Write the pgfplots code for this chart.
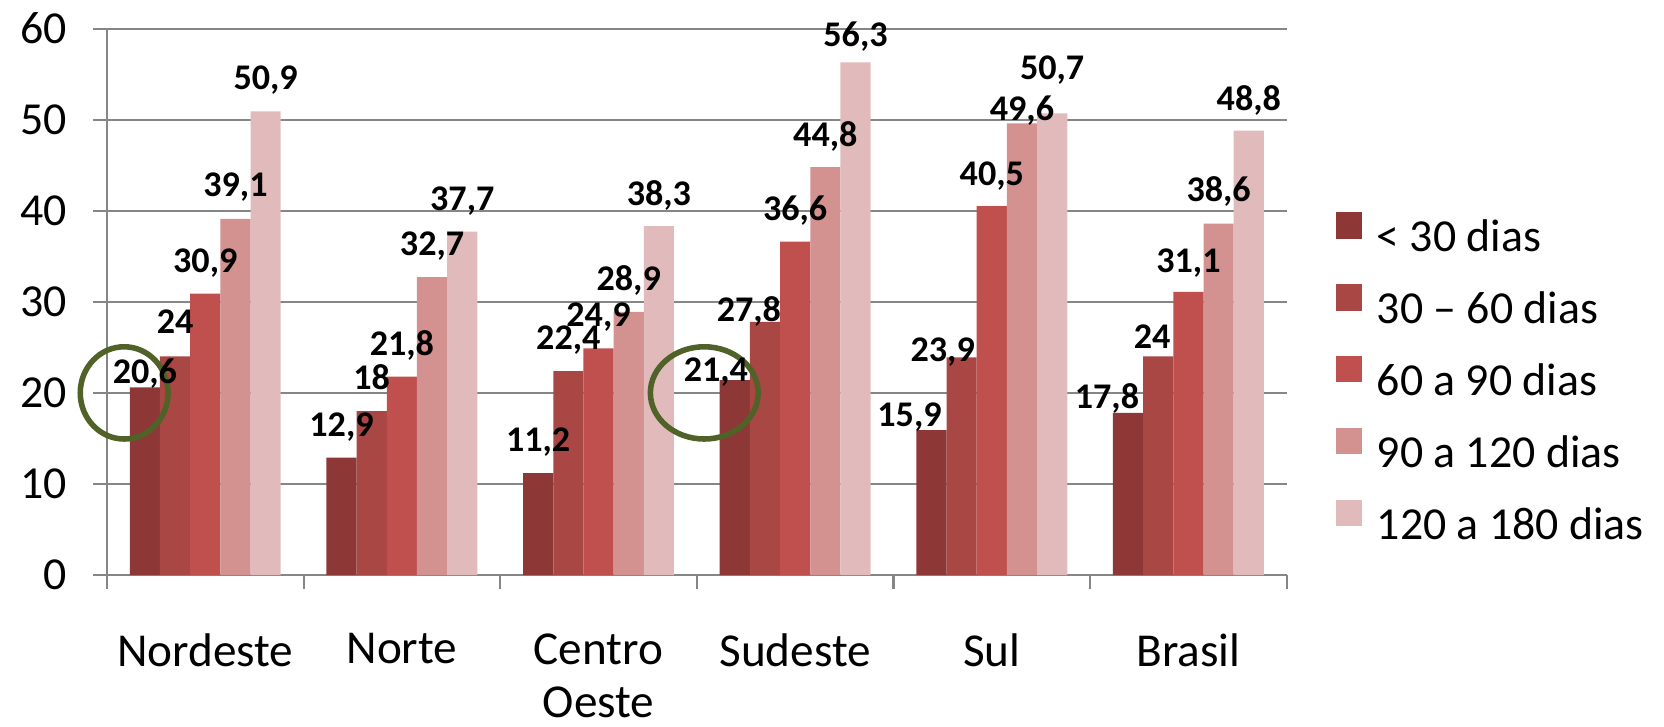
\documentclass[border=0pt]{standalone}
\usepackage{pgfplots}
\usepackage{pgfplotstable}
\pgfplotsset{compat=1.18}
\usepackage{fontspec}
\setmainfont{Carlito}

\definecolor{cA}{RGB}{141,56,55}
\definecolor{cB}{RGB}{169,71,69}
\definecolor{cC}{RGB}{192,80,77}
\definecolor{cD}{RGB}{211,145,144}
\definecolor{cE}{RGB}{225,187,187}
\definecolor{gridc}{RGB}{134,134,134}
\definecolor{ring}{RGB}{80,98,40}

% x, value, label x shift (pt), label baseline above bar top (pt)
\pgfplotstableread{
x y dx by
0 20.6 0 1.3
1 12.9 0 7.7
2 11.2 0 7.7
3 21.4 -6.8 -0.5
4 15.9 -7.9 1.3
5 17.8 -7.6 1.6
}\tA
\pgfplotstableread{
x y dx by
0 24 0 8.3
1 18 0 7.7
2 22.4 0 7.9
3 27.8 -5.8 0.2
4 23.9 -6.8 -1.6
5 24 -2.2 2.8
}\tB
\pgfplotstableread{
x y dx by
0 30.9 0 7.7
1 21.8 0 7.7
2 24.9 0 7.7
3 36.6 0 7.8
4 40.5 0 7.6
5 31.1 0 7.0
}\tC
\pgfplotstableread{
x y dx by
0 39.1 0 8.0
1 32.7 0 8.0
2 28.9 0 7.8
3 44.8 0 7.5
4 49.6 0 1.2
5 38.6 0 7.8
}\tD
\pgfplotstableread{
x y dx by
0 50.9 0 7.9
1 37.7 0 7.8
2 38.3 0 7.6
3 56.3 0 5.6
4 50.7 0 12.0
5 48.8 0 7.2
}\tE

\begin{document}
\begin{tikzpicture}
\useasboundingbox (-38.5pt,-54.7pt) rectangle (560.5pt,207pt);
\begin{axis}[
  scale only axis,
  width=424.7pt, height=196.7pt,
  ybar=0pt,
  bar width=0.1535,
  xmin=-0.5, xmax=5.5,
  ymin=0, ymax=60,
  axis x line*=bottom, axis y line*=left,
  axis line style={draw=gridc, line width=0.75pt},
  tick align=outside,
  major tick length=5pt,
  tick style={draw=gridc, line width=0.75pt},
  xtick={-0.5,0.5,1.5,2.5,3.5,4.5,5.5},
  xticklabels={},
  extra x ticks={0,1,2,3,4,5},
  extra x tick labels={Nordeste,Norte,{Centro\\Oeste},Sudeste,Sul,Brasil},
  extra x tick style={major tick length=0pt,
    xticklabel style={align=center, anchor=north, yshift=-17.5pt,
      font=\fontsize{17}{19.2}\selectfont}},
  ytick={0,10,...,60},
  yticklabel style={font=\fontsize{16.5}{19}\selectfont, xshift=-6pt},
  ymajorgrids=true,
  grid style={draw=gridc, line width=0.75pt},
  /pgf/number format/assume math mode=true,
  /pgf/number format/use comma,
  /pgf/number format/fixed,
  /pgf/number format/precision=1,
  nodes near coords={\pgfmathprintnumber{\pgfplotspointmeta}},
  visualization depends on={\thisrow{dx} \as \labdx},
  visualization depends on={\thisrow{by} \as \labby},
  every node near coord/.append style={anchor=base, inner sep=0pt,
    xshift=\labdx pt, yshift=\labby pt,
    font=\fontsize{13}{15}\selectfont\bfseries, text=black},
  legend image code/.code={\fill[#1] (0pt,0pt) rectangle (9.6pt,9.6pt);
    \path (14.8pt,0pt);},
  legend style={at={(1.041,0.3646)}, anchor=west, draw=none, fill=none,
    inner sep=0pt, row sep=11.5pt,
    font=\fontsize{16.5}{19}\selectfont,
    nodes={inner sep=0pt, text height=9.6pt, text depth=0pt}},
  legend cell align=left,
  clip=false,
]
\addplot[fill=cA, draw=none, bar shift=-0.307] table[x=x, y=y] {\tA};
\addlegendentry{< 30 dias}
\addplot[fill=cB, draw=none, bar shift=-0.1535] table[x=x, y=y] {\tB};
\addlegendentry{30 – 60 dias}
\addplot[fill=cC, draw=none, bar shift=0] table[x=x, y=y] {\tC};
\addlegendentry{60 a 90 dias}
\addplot[fill=cD, draw=none, bar shift=0.1535] table[x=x, y=y] {\tD};
\addlegendentry{90 a 120 dias}
\addplot[fill=cE, draw=none, bar shift=0.307] table[x=x, y=y] {\tE};
\addlegendentry{120 a 180 dias}
% green rings from the original slide
\draw[ring, line width=2pt] (axis cs:-0.4125,20) ellipse [x radius=15.8pt, y radius=16.6pt];
\draw[ring, line width=2pt] (axis cs:2.5377,20) ellipse [x radius=19.4pt, y radius=16.6pt];
\end{axis}
\end{tikzpicture}
\end{document}
